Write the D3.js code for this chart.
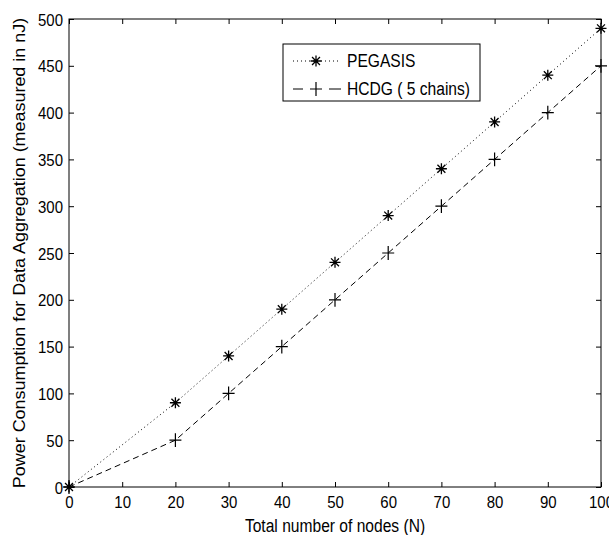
<!DOCTYPE html>
<html>
<head>
<meta charset="utf-8">
<script src="https://cdn.jsdelivr.net/npm/d3@7"></script>
<style>
  html, body { margin: 0; padding: 0; background: #fff; }
  svg { display: block; }
  text { font-family: "Liberation Sans", Arial, sans-serif; fill: #000; }
</style>
</head>
<body>
<svg id="chart" width="609" height="535"></svg>
<script>
// ---- data ----
const nodes = [0, 10, 20, 30, 40, 50, 60, 70, 80, 90, 100];
const pegasisX = [0, 20, 30, 40, 50, 60, 70, 80, 90, 100];
const pegasisY = [0, 90, 140, 190, 240, 290, 340, 390, 440, 490];
const hcdgX = [0, 20, 30, 40, 50, 60, 70, 80, 90, 100];
const hcdgY = [0, 50, 100, 150, 200, 250, 300, 350, 400, 450];
const yTicks = [0, 50, 100, 150, 200, 250, 300, 350, 400, 450, 500];
const seriesNames = ["PEGASIS", "HCDG ( 5 chains)"];
const xLabel = "Total number of nodes (N)";
const yLabel = "Power Consumption for Data Aggregation (measured in nJ)";

// ---- layout ----
const L = 69, R = 601, T = 19, B = 487;
const SY = 1.15; // vertical stretch of the original bitmap text
const svg = d3.select("#chart");
const x = d3.scaleLinear().domain([0, 100]).range([L, R]);
const y = d3.scaleLinear().domain([0, 500]).range([B, T]);

// ticks on all four sides (inward)
const gB = svg.append("g").attr("transform", `translate(0,${B})`)
  .call(d3.axisBottom(x).tickValues(nodes).tickSizeInner(-5).tickSizeOuter(0).tickFormat(d3.format("d")));
const gL = svg.append("g").attr("transform", `translate(${L},0)`)
  .call(d3.axisLeft(y).tickValues(yTicks).tickSizeInner(-5).tickSizeOuter(0).tickFormat(d3.format("d")));
svg.append("g").attr("transform", `translate(0,${T})`)
  .call(d3.axisTop(x).tickValues(nodes).tickSizeInner(-5).tickSizeOuter(0).tickFormat(""));
svg.append("g").attr("transform", `translate(${R},0)`)
  .call(d3.axisRight(y).tickValues(yTicks).tickSizeInner(-5).tickSizeOuter(0).tickFormat(""));

svg.selectAll(".domain").remove();
svg.selectAll(".tick line").attr("stroke", "#000").attr("stroke-width", 1);

gB.selectAll(".tick text")
  .attr("y", 0).attr("dy", null)
  .attr("font-size", 15)
  .attr("font-family", "Liberation Sans, Arial, sans-serif")
  .attr("fill", "#000")
  .attr("transform", `translate(0,21) scale(1,${SY})`);
gL.selectAll(".tick text")
  .attr("x", 0).attr("dy", null)
  .attr("font-size", 15)
  .attr("font-family", "Liberation Sans, Arial, sans-serif")
  .attr("fill", "#000")
  .attr("transform", `translate(-6,6) scale(1,${SY})`);

// box
svg.append("rect").attr("x", L).attr("y", T).attr("width", R - L).attr("height", B - T)
  .attr("fill", "none").attr("stroke", "#000").attr("stroke-width", 1);

// lines
const line = d3.line().x(d => x(d[0])).y(d => y(d[1]));
const pegasis = pegasisX.map((v, i) => [v, pegasisY[i]]);
const hcdg = hcdgX.map((v, i) => [v, hcdgY[i]]);

svg.append("path").datum(pegasis).attr("d", line)
  .attr("fill", "none").attr("stroke", "#000").attr("stroke-width", 1)
  .attr("stroke-dasharray", "1,3");
svg.append("path").datum(hcdg).attr("d", line)
  .attr("fill", "none").attr("stroke", "#000").attr("stroke-width", 1)
  .attr("stroke-dasharray", "6,4");

function asterisk(g, cx, cy, r) {
  const d = r * 0.72;
  const p = `M${cx - r},${cy}L${cx + r},${cy}M${cx},${cy - r}L${cx},${cy + r}` +
            `M${cx - d},${cy - d}L${cx + d},${cy + d}M${cx - d},${cy + d}L${cx + d},${cy - d}`;
  g.append("path").attr("d", p).attr("stroke", "#000").attr("stroke-width", 1.3).attr("fill", "none");
}
function plus(g, cx, cy, r) {
  const p = `M${cx - r},${cy}L${cx + r},${cy}M${cx},${cy - r * SY}L${cx},${cy + r * SY}`;
  g.append("path").attr("d", p).attr("stroke", "#000").attr("stroke-width", 1.2).attr("fill", "none");
}

const gm = svg.append("g");
pegasis.forEach(d => asterisk(gm, x(d[0]), y(d[1]), 5.5));
hcdg.forEach(d => plus(gm, x(d[0]), y(d[1]), 6));

// legend
const lg = svg.append("g");
lg.append("rect").attr("x", 283).attr("y", 44).attr("width", 197).attr("height", 57)
  .attr("fill", "#fff").attr("stroke", "#000").attr("stroke-width", 1);
lg.append("line").attr("x1", 293).attr("x2", 341).attr("y1", 61).attr("y2", 61)
  .attr("stroke", "#000").attr("stroke-dasharray", "1,3");
asterisk(lg, 316, 61, 5.5);
lg.append("line").attr("x1", 293).attr("x2", 303).attr("y1", 89).attr("y2", 89)
  .attr("stroke", "#000");
lg.append("line").attr("x1", 329).attr("x2", 341).attr("y1", 89).attr("y2", 89)
  .attr("stroke", "#000");
plus(lg, 316, 89, 6);
lg.append("text").attr("transform", `translate(347,67) scale(1,${SY})`)
  .attr("font-size", 15.6).text(seriesNames[0]);
lg.append("text").attr("transform", `translate(347,95) scale(1,${SY})`)
  .attr("font-size", 15.6).text(seriesNames[1]);

// axis labels
svg.append("text").attr("text-anchor", "middle")
  .attr("transform", `translate(${(L + R) / 2},532) scale(1,${SY})`)
  .attr("font-size", 15.6).text(xLabel);
svg.append("text").attr("text-anchor", "middle")
  .attr("transform", `translate(25,${(T + B) / 2}) rotate(-90) scale(${SY},1)`)
  .attr("font-size", 15.6).text(yLabel);
</script>
</body>
</html>
